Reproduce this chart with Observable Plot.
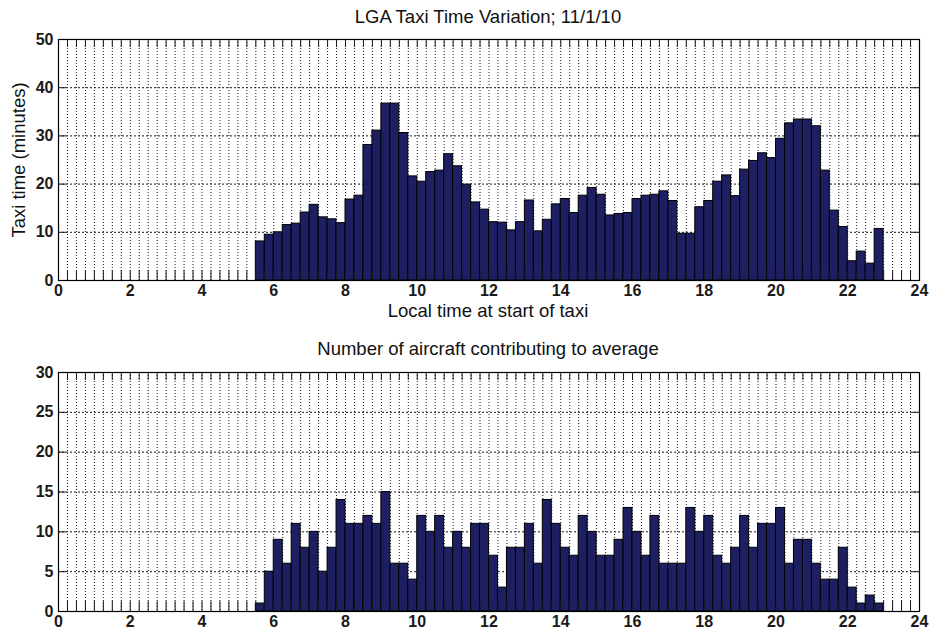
<!DOCTYPE html>
<html>
<head>
<meta charset="utf-8">
<script src="https://cdn.jsdelivr.net/npm/d3@7"></script>
<script src="https://cdn.jsdelivr.net/npm/@observablehq/plot@0.6"></script>
<style>
  body { margin: 0; background: #fff; }
  #page { position: relative; width: 931px; height: 639px; font-family: "Liberation Sans", Arial, sans-serif; color: #111; overflow: hidden; }
  .panel { position: absolute; left: 0; }
  .lbl { position: absolute; font-size: 18.5px; line-height: 22px; white-space: nowrap; transform: translateX(-50%); }
  .ylbl { position: absolute; font-size: 18.5px; line-height: 22px; white-space: nowrap; transform: translate(-50%, -50%) rotate(-90deg); }
</style>
</head>
<body>
<div id="page"></div>
<script>
// 15-minute bins of departures, starting at 05:30 local time
const firstBinHour = 5.5;
const binHours = 0.25;

// Mean taxi time per bin (minutes)
const taxiMinutes = [
  8.1, 9.5, 10.0, 11.5, 11.8, 14.1, 15.7, 13.1, 12.7, 11.9,
  16.8, 17.6, 28.1, 31.1, 36.7, 36.7, 30.6, 21.6, 20.5, 22.5,
  22.8, 26.2, 23.7, 19.9, 16.2, 14.7, 12.1, 12.0, 10.4, 12.1,
  16.6, 10.2, 12.6, 15.8, 16.9, 14.0, 17.6, 19.2, 17.8, 13.5,
  13.8, 14.0, 16.9, 17.6, 17.8, 18.5, 16.5, 9.7, 9.7, 15.2,
  16.5, 20.5, 21.8, 17.5, 23.0, 24.8, 26.4, 25.4, 29.4, 32.6,
  33.4, 33.4, 32.0, 22.8, 14.5, 11.1, 4.0, 6.0, 3.5, 10.7
];

// Number of aircraft in each bin
const aircraftCount = [
  1, 5, 9, 6, 11, 8, 10, 5, 8, 14,
  11, 11, 12, 11, 15, 6, 6, 4, 12, 10,
  12, 8, 10, 8, 11, 11, 7, 3, 8, 8,
  11, 6, 14, 11, 8, 7, 12, 10, 7, 7,
  9, 13, 10, 7, 12, 6, 6, 6, 13, 10,
  12, 7, 6, 8, 12, 8, 11, 11, 13, 6,
  9, 9, 6, 4, 4, 8, 3, 1, 2, 1
];

const hourTicks = [0, 2, 4, 6, 8, 10, 12, 14, 16, 18, 20, 22, 24];
const taxiTicks = [0, 10, 20, 30, 40, 50];
const countTicks = [0, 5, 10, 15, 20, 25, 30];
const quarterHours = d3.range(0, 24 + 1e-9, binHours);

const barFill = "#1e1f62";
const gridColor = "#1a1a1a";

function barPanel({values, yTicks, height, marginTop, marginBottom}) {
  const rows = values.map((v, i) => ({start: firstBinHour + i * binHours, v}));
  const yMax = yTicks[yTicks.length - 1];
  return Plot.plot({
    width: 931,
    height,
    marginLeft: 58,
    marginRight: 12,
    marginTop,
    marginBottom,
    style: {fontFamily: "'Liberation Sans', Arial, sans-serif", fontSize: "16px", fontWeight: "bold", color: "#1a1a1a", background: "transparent", overflow: "visible"},
    x: {domain: [0, 24], label: null},
    y: {domain: [0, yMax], label: null},
    marks: [
      Plot.ruleX(quarterHours.filter(h => h > 0 && h < 24), {stroke: gridColor, strokeWidth: 1, strokeDasharray: "1,2"}),
      Plot.ruleY(yTicks.filter(t => t > 0 && t < yMax), {stroke: gridColor, strokeWidth: 1, strokeDasharray: "2,2"}),
      Plot.rect(rows, {x1: "start", x2: d => d.start + binHours, y1: 0, y2: "v", fill: barFill, stroke: "#000", strokeWidth: 1, inset: 0}),
      Plot.axisX(quarterHours, {anchor: "bottom", tickSize: -10, fill: "none", label: null}),
      Plot.axisX(quarterHours, {anchor: "top", tickSize: -7, fill: "none", label: null}),
      Plot.axisX(hourTicks, {anchor: "bottom", tickSize: 0, tickPadding: 4, label: null}),
      Plot.axisY(yTicks, {anchor: "left", tickSize: -8, fill: "none", label: null}),
      Plot.axisY(yTicks, {anchor: "right", tickSize: -8, fill: "none", label: null}),
      Plot.axisY(yTicks, {anchor: "left", tickSize: 0, tickPadding: 5, label: null}),
      Plot.frame({stroke: "#000", strokeWidth: 1.2})
    ]
  });
}

const page = document.getElementById("page");

const taxiPanel = barPanel({values: taxiMinutes, yTicks: taxiTicks, height: 330, marginTop: 39, marginBottom: 50});
taxiPanel.classList.add("panel");
taxiPanel.style.top = "0px";
page.appendChild(taxiPanel);

const countPanel = barPanel({values: aircraftCount, yTicks: countTicks, height: 309, marginTop: 42, marginBottom: 28});
countPanel.classList.add("panel");
countPanel.style.top = "330px";
page.appendChild(countPanel);

function addLabel(text, cls, x, y) {
  const el = document.createElement("div");
  el.className = cls;
  el.textContent = text;
  el.style.left = x + "px";
  el.style.top = y + "px";
  page.appendChild(el);
}
addLabel("LGA Taxi Time Variation; 11/1/10", "lbl", 488, 6);
addLabel("Local time at start of taxi", "lbl", 488, 300);
addLabel("Number of aircraft contributing to average", "lbl", 488, 338);
addLabel("Taxi time (minutes)", "ylbl", 19, 160);
</script>
</body>
</html>
